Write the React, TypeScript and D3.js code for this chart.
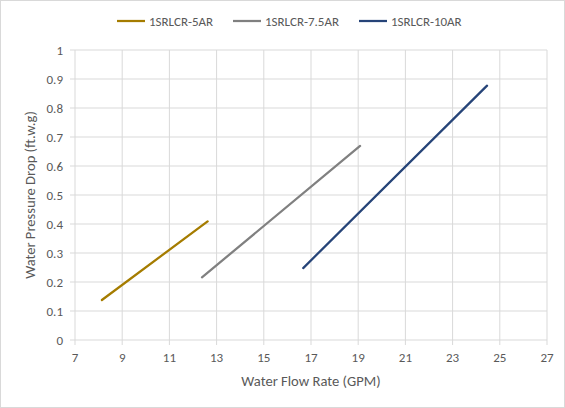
import React from "react";
import * as d3 from "d3";

const seriesNames = ["1SRLCR-5AR", "1SRLCR-7.5AR", "1SRLCR-10AR"];
const seriesColors = ["#A57C00", "#808080", "#264478"];
const flow5 = [8.14, 12.62];
const drop5 = [0.138, 0.409];
const flow75 = [12.38, 19.08];
const drop75 = [0.216, 0.669];
const flow10 = [16.67, 24.46];
const drop10 = [0.248, 0.877];
const xTicks = [7, 9, 11, 13, 15, 17, 19, 21, 23, 25, 27];
const yTicks = [0, 0.1, 0.2, 0.3, 0.4, 0.5, 0.6, 0.7, 0.8, 0.9, 1];

const W = 565, H = 408;
const FONT = "Carlito, Calibri, 'Open Sans', sans-serif";

export default function App() {
  const x = d3.scaleLinear().domain([7, 27]).range([75, 547]);
  const y = d3.scaleLinear().domain([0, 1]).range([340, 50]);
  const series = [
    { name: seriesNames[0], color: seriesColors[0], xs: flow5, ys: drop5 },
    { name: seriesNames[1], color: seriesColors[1], xs: flow75, ys: drop75 },
    { name: seriesNames[2], color: seriesColors[2], xs: flow10, ys: drop10 },
  ];
  const line = d3.line<[number, number]>().x(d => x(d[0])).y(d => y(d[1]));
  const legendX = [117, 233, 359];
  return (
    <svg width={W} height={H} style={{ position: "absolute", left: 0, top: 0 }} fontFamily={FONT}>
      <rect x={0.5} y={0.5} width={W - 1} height={H - 1} fill="#fff" stroke="#d9d9d9" />
      {xTicks.map(t => (
        <line key={"gx" + t} x1={x(t)} x2={x(t)} y1={y(1)} y2={y(0)} stroke="#d9d9d9" strokeWidth={1} />
      ))}
      {yTicks.map(t => (
        <line key={"gy" + t} x1={x(7) - 5} x2={x(27)} y1={y(t)} y2={y(t)} stroke="#d9d9d9" strokeWidth={1} />
      ))}
      {xTicks.map(t => (
        <line key={"tx" + t} x1={x(t)} x2={x(t)} y1={y(0)} y2={y(0) + 5} stroke="#d9d9d9" />
      ))}
      {yTicks.map(t => (
        <text key={"ly" + t} x={63} y={y(t)} dy="0.35em" textAnchor="end" fontSize={13} fill="#595959">{d3.format("")(t)}</text>
      ))}
      {xTicks.map(t => (
        <text key={"lx" + t} x={x(t)} y={357} dy="0.35em" textAnchor="middle" fontSize={13} fill="#595959">{t}</text>
      ))}
      <text x={(x(7) + x(27)) / 2} y={381} dy="0.35em" textAnchor="middle" fontSize={14.6} fill="#595959">Water Flow Rate (GPM)</text>
      <text transform={`translate(30,${(y(0) + y(1)) / 2}) rotate(-90)`} dy="0.35em" textAnchor="middle" fontSize={14.6} fill="#595959">Water Pressure Drop (ft.w.g)</text>
      {series.map(s => (
        <path key={s.name} d={line(s.xs.map((v, i) => [v, s.ys[i]] as [number, number])) || ""} fill="none" stroke={s.color} strokeWidth={2.25} strokeLinecap="round" />
      ))}
      {series.map((s, i) => (
        <g key={"lg" + s.name}>
          <line x1={legendX[i]} x2={legendX[i] + 28} y1={21} y2={21} stroke={s.color} strokeWidth={2.25} />
          <text x={legendX[i] + 32} y={21} dy="0.35em" fontSize={13} fill="#595959">{s.name}</text>
        </g>
      ))}
    </svg>
  );
}
